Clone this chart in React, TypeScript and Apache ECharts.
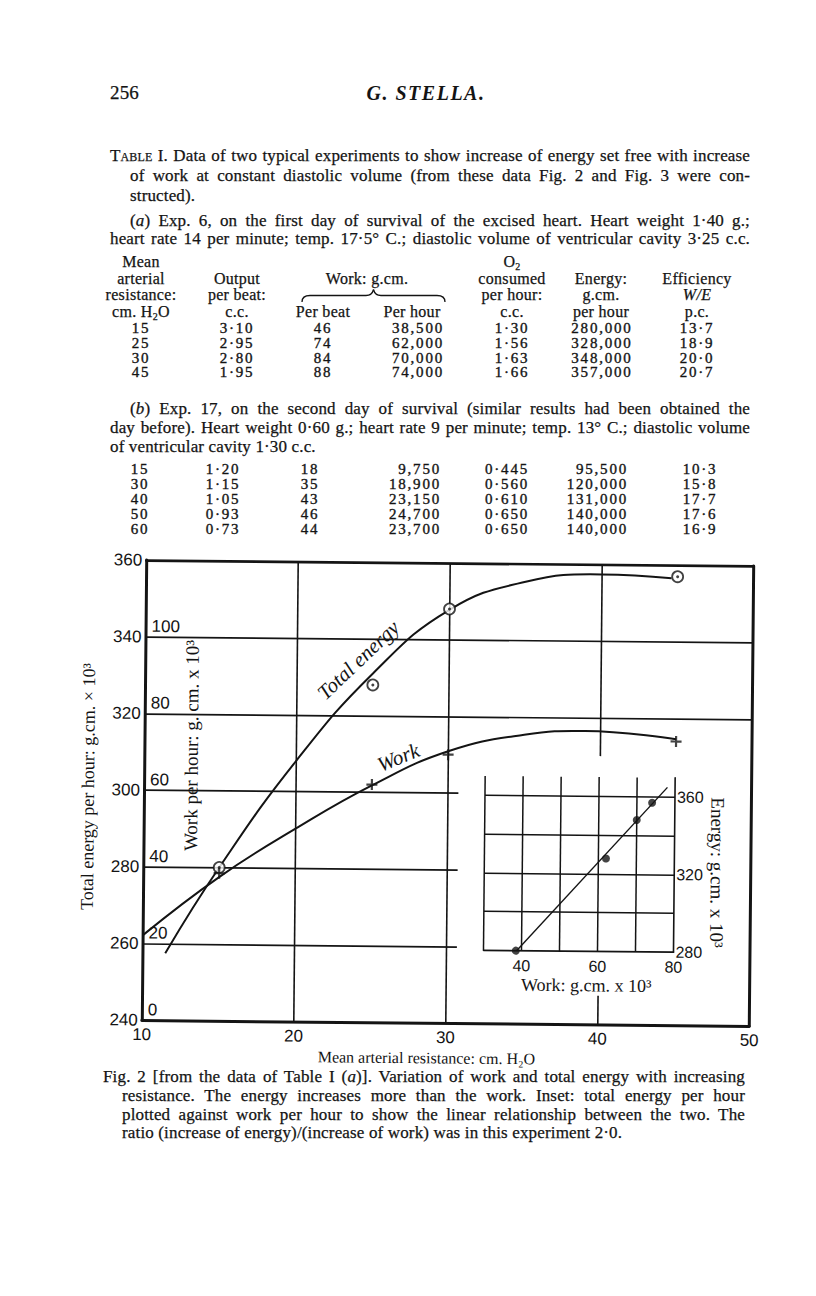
import React, { useEffect, useRef } from "react";
import * as echarts from "echarts";

// ---------- Table I (a): Exp. 6 ----------
const resistanceA = [15, 25, 30, 45];
const outputA = [3.1, 2.95, 2.8, 1.95];
const workPerBeatA = [46, 74, 84, 88];
const workPerHourA = [38500, 62000, 70000, 74000];
const o2A = [1.3, 1.56, 1.63, 1.66];
const energyA = [280000, 328000, 348000, 357000];
const efficiencyA = [13.7, 18.9, 20.0, 20.7];

// ---------- Table I (b): Exp. 17 ----------
const resistanceB = [15, 30, 40, 50, 60];
const outputB = [1.2, 1.15, 1.05, 0.93, 0.73];
const workPerBeatB = [18, 35, 43, 46, 44];
const workPerHourB = [9750, 18900, 23150, 24700, 23700];
const o2B = [0.445, 0.56, 0.61, 0.65, 0.65];
const energyB = [95500, 120000, 131000, 140000, 140000];
const efficiencyB = [10.3, 15.8, 17.7, 17.6, 16.9];

// ---------- Fig. 2 curves ----------
// [resistance cm H2O, energy g.cm. x10^3]
const energyCurve = [
  [11.5, 257.5], [15, 280], [20, 308], [25, 331], [30, 347.8],
  [35, 355.3], [40, 357.4], [44.6, 356.6],
];
// [resistance, work per hour g.cm. x10^3]
const workCurve = [
  [10, 22.1], [15, 37.5], [20, 50.3], [25, 61.8], [30, 70.9],
  [35, 75.4], [39, 76.5], [45, 74.6],
];
// inset fitted straight line [work x10^3, energy x10^3]
const insetFit = [[38.7, 280], [78, 365]];

// axis ticks
const mainXTicks = [10, 20, 30, 40, 50];
const energyTicks = [240, 260, 280, 300, 320, 340, 360];
const insetXLabels = [40, 60, 80];
const insetYLabels = [280, 320, 360];

// grid rulings of the main figure
const mainFullVerticals = [20, 30];
const mainVertical40 = [[310, 360], [240, 247.5]];
const mainFullHorizontals = [320, 340];
const mainShortHorizontals = [260, 280, 300];
const mainShortHorizontalEnd = 30.7;
// inset rulings
const insetVerticals = [30, 40, 50, 60, 70];
const insetHorizontals = [300, 320, 340, 360];

const INK = "#141414";
const SERIF = '"Liberation Serif", "Times New Roman", serif';
const SANS = "Liberation Sans";

const dot = (v: number, d: number) => v.toFixed(d).replace(".", "\u00b7");
const thou = (v: number) => v.toLocaleString("en-US");

const rowsA = resistanceA.map((r, i) => [
  String(r), dot(outputA[i], 2), String(workPerBeatA[i]), thou(workPerHourA[i]),
  dot(o2A[i], 2), thou(energyA[i]), dot(efficiencyA[i], 1),
]);
const rowsB = resistanceB.map((r, i) => [
  String(r), dot(outputB[i], 2), String(workPerBeatB[i]), thou(workPerHourB[i]),
  dot(o2B[i], 3), thou(energyB[i]), dot(efficiencyB[i], 1),
]);

const colsA: { c?: number; r?: number }[] = [
  { c: 141 }, { c: 237 }, { c: 323 }, { r: 444 }, { c: 512 }, { c: 602 }, { c: 697 },
];
const colsB: { c?: number; r?: number }[] = [
  { c: 140 }, { c: 223 }, { c: 310 }, { r: 441 }, { c: 507 }, { r: 628 }, { c: 700 },
];
const rowYA = [330, 345, 360, 374];
const rowYB = [471, 486, 501, 516, 531];

const textStroke = { WebkitTextStroke: "0.25px #141414" } as React.CSSProperties;
const subStyle: React.CSSProperties = { fontSize: 10, lineHeight: 0, verticalAlign: "-3px" };

// top of a line box so that the middle of the lower-case letters sits at y
const topFor = (y: number, size: number, lh: number) => y - 0.1075 * size - lh / 2;

function Line(props: {
  x: number; y: number; w?: number; size?: number; lh?: number; justify?: boolean;
  children: React.ReactNode; style?: React.CSSProperties;
}) {
  const size = props.size ?? 17;
  const lh = props.lh ?? size;
  return (
    <div
      style={{
        position: "absolute",
        left: props.x,
        top: topFor(props.y, size, lh),
        width: props.w,
        fontSize: size,
        lineHeight: `${lh}px`,
        letterSpacing: "0.15px",
        textAlign: props.justify ? "justify" : "left",
        textAlignLast: props.justify ? "justify" : "auto",
        whiteSpace: props.justify ? "normal" : "nowrap",
        ...textStroke,
        ...props.style,
      } as React.CSSProperties}
    >
      {props.children}
    </div>
  );
}

function Cell(props: { c?: number; r?: number; y: number; size?: number; lh?: number; children: React.ReactNode; style?: React.CSSProperties }) {
  const size = props.size ?? 15;
  const lh = props.lh ?? 13;
  const right = props.r != null;
  return (
    <div
      style={{
        position: "absolute",
        top: topFor(props.y, size, lh),
        left: right ? props.r : props.c,
        transform: right ? "translateX(-100%)" : "translateX(-50%)",
        fontSize: size,
        lineHeight: `${lh}px`,
        whiteSpace: "nowrap",
        letterSpacing: "1.8px",
        WebkitTextStroke: "0.35px #141414",
        ...props.style,
      } as React.CSSProperties}
    >
      {props.children}
    </div>
  );
}

function buildOption(): any {
  const gridLineStyle = { color: INK, width: 1.6, type: "solid" as const };
  const mainRulings = [
    ...mainFullVerticals.map((x) => [{ coord: [x, 240] }, { coord: [x, 360] }]),
    ...mainVertical40.map(([a, b]) => [{ coord: [40, a] }, { coord: [40, b] }]),
    ...mainFullHorizontals.map((y) => [{ coord: [10, y] }, { coord: [50, y] }]),
    ...mainShortHorizontals.map((y) => [{ coord: [10, y] }, { coord: [mainShortHorizontalEnd, y] }]),
  ];
  const insetRulings = [
    ...insetVerticals.map((x) => [{ coord: [x, 280] }, { coord: [x, 370] }]),
    ...insetHorizontals.map((y) => [{ coord: [30, y] }, { coord: [80, y] }]),
  ];
  const energyPts = resistanceA.map((r, i) => [r, energyA[i] / 1000]);
  const workPts = resistanceA.map((r, i) => [r, workPerHourA[i] / 1000]);
  const insetPts = workPerHourA.map((w, i) => [w / 1000, energyA[i] / 1000]);

  return {
    animation: false,
    backgroundColor: "transparent",
    grid: [
      { left: 144, right: 64.5, top: 23, bottom: 47 },
      { left: 485, right: 141, top: 235.6, bottom: 120 },
    ],
    xAxis: [
      {
        gridIndex: 0, type: "value", min: 10, max: 50, interval: 10,
        axisLine: { show: true, lineStyle: { color: INK, width: 3 } },
        axisTick: { show: false },
        axisLabel: { color: INK, fontSize: 17, fontFamily: SANS, margin: 6, customValues: mainXTicks },
        splitLine: { show: false },
      },
      {
        gridIndex: 0, type: "value", position: "top", min: 10, max: 50,
        axisLine: { show: true, lineStyle: { color: INK, width: 2.6 } },
        axisTick: { show: false }, axisLabel: { show: false }, splitLine: { show: false },
      },
      {
        gridIndex: 1, type: "value", min: 30, max: 80, interval: 10,
        axisLine: { show: true, lineStyle: { color: INK, width: 1.6 } },
        axisTick: { show: false },
        axisLabel: { color: INK, fontSize: 16, fontFamily: SANS, margin: 7, customValues: insetXLabels },
        splitLine: { show: false },
      },
    ],
    yAxis: [
      {
        gridIndex: 0, type: "value", min: 240, max: 360, interval: 20, position: "left",
        axisLine: { show: true, lineStyle: { color: INK, width: 3 } },
        axisTick: { show: false },
        axisLabel: { color: INK, fontSize: 17, fontFamily: SANS, margin: 4, customValues: energyTicks },
        splitLine: { show: false },
      },
      {
        gridIndex: 0, type: "value", min: 240, max: 360, position: "right",
        axisLine: { show: true, lineStyle: { color: INK, width: 3 } },
        axisTick: { show: false }, axisLabel: { show: false }, splitLine: { show: false },
      },
      {
        gridIndex: 0, type: "value", min: 0, max: 120, interval: 20, position: "left",
        axisLine: { show: false }, axisTick: { show: false }, splitLine: { show: false },
        axisLabel: {
          inside: true, color: INK, fontSize: 17, fontFamily: SANS, margin: 6,
          verticalAlign: "bottom", padding: [0, 0, 2, 0],
          formatter: (v: number) => (v === 120 ? "" : String(v)),
        },
      },
      {
        gridIndex: 1, type: "value", min: 280, max: 370, position: "right",
        axisLine: { show: true, lineStyle: { color: INK, width: 1.6 } },
        axisTick: { show: false }, splitLine: { show: false },
        axisLabel: {
          color: INK, fontSize: 16, fontFamily: SANS, margin: 2, customValues: insetYLabels,
          padding: [0, 0, 6, 0],
        },
      },
    ],
    series: [
      {
        name: "Total energy", type: "line", xAxisIndex: 0, yAxisIndex: 0,
        data: energyCurve, smooth: 0.45, symbol: "none", silent: true,
        lineStyle: { color: INK, width: 2 },
        markLine: {
          silent: true, symbol: ["none", "none"], label: { show: false },
          lineStyle: gridLineStyle, emphasis: { disabled: true }, data: mainRulings,
        },
      },
      {
        name: "Work", type: "line", xAxisIndex: 0, yAxisIndex: 2,
        data: workCurve, smooth: 0.45, symbol: "none", silent: true,
        lineStyle: { color: INK, width: 2 },
      },
      {
        name: "Energy points", type: "scatter", xAxisIndex: 0, yAxisIndex: 0,
        data: energyPts, symbol: "circle", symbolSize: 11, z: 5,
        itemStyle: { color: "#ffffff", borderColor: INK, borderWidth: 1.8 },
      },
      {
        name: "Energy point centres", type: "scatter", xAxisIndex: 0, yAxisIndex: 0,
        data: energyPts, symbol: "circle", symbolSize: 3, z: 6,
        itemStyle: { color: INK },
      },
      {
        name: "Work points", type: "scatter", xAxisIndex: 0, yAxisIndex: 2,
        data: workPts, symbol: "path://M4,0H6V4H10V6H6V10H4V6H0V4H4Z", symbolSize: 11, z: 5,
        itemStyle: { color: INK },
      },
      {
        name: "Inset fit", type: "line", xAxisIndex: 2, yAxisIndex: 3,
        data: insetFit, symbol: "none", silent: true,
        lineStyle: { color: INK, width: 1.4 },
        markLine: {
          silent: true, symbol: ["none", "none"], label: { show: false },
          lineStyle: { color: INK, width: 1.5, type: "solid" }, emphasis: { disabled: true },
          data: insetRulings,
        },
      },
      {
        name: "Inset points", type: "scatter", xAxisIndex: 2, yAxisIndex: 3,
        data: insetPts, symbol: "circle", symbolSize: 8, z: 5,
        itemStyle: { color: INK },
      },
    ],
    graphic: [
      {
        type: "text", x: 88, y: 250, rotation: Math.PI / 2,
        style: { text: "Total energy per hour: g.cm. \u00d7 10\u00b3", fontFamily: SERIF, fontSize: 18, fill: INK, align: "center", verticalAlign: "middle" },
      },
      {
        type: "text", x: 191, y: 208, rotation: Math.PI / 2,
        style: { text: "Work per hour: g. cm. x 10\u00b3", fontFamily: SERIF, fontSize: 19, fill: INK, align: "center", verticalAlign: "middle" },
      },
      {
        type: "text", x: 357, y: 121, rotation: (44 * Math.PI) / 180,
        style: { text: "Total energy", fontFamily: SERIF, fontStyle: "italic", fontSize: 21, fill: INK, align: "center", verticalAlign: "middle" },
      },
      {
        type: "text", x: 398, y: 218, rotation: (23 * Math.PI) / 180,
        style: { text: "Work", fontFamily: SERIF, fontStyle: "italic", fontSize: 21, fill: INK, align: "center", verticalAlign: "middle" },
      },
      {
        type: "text", x: 588, y: 444,
        style: { text: "Work: g.cm. x 10\u00b3", fontFamily: SERIF, fontSize: 18, fill: INK, align: "center", verticalAlign: "middle" },
      },
      {
        type: "text", x: 718, y: 330, rotation: -Math.PI / 2,
        style: { text: "Energy: g.cm. x 10\u00b3", fontFamily: SERIF, fontSize: 19, fill: INK, align: "center", verticalAlign: "middle" },
      },
      {
        type: "text", x: 429, y: 518,
        style: { text: "Mean arterial resistance: cm. H\u2082O", fontFamily: SERIF, fontSize: 16, fill: INK, align: "center", verticalAlign: "middle" },
      },
    ],
  };
}

export default function App() {
  const ref = useRef<HTMLDivElement>(null);
  useEffect(() => {
    if (!ref.current) return;
    const chart = echarts.init(ref.current, null, { renderer: "svg" });
    chart.setOption(buildOption());
    return () => chart.dispose();
  }, []);

  const headA: [number, number, React.ReactNode][] = [
    [141, 263, "Mean"], [141, 280, "arterial"], [141, 296, "resistance:"], [141, 313, <>cm. H<sub style={subStyle}>2</sub>O</>],
    [237, 280, "Output"], [237, 296, "per beat:"], [237, 313, "c.c."],
    [367, 280, "Work: g.cm."], [323, 313, "Per beat"], [412, 313, "Per hour"],
    [512, 263, <>O<sub style={subStyle}>2</sub></>], [512, 280, "consumed"], [512, 296, "per hour:"], [512, 313, "c.c."],
    [601, 280, "Energy:"], [601, 296, "g.cm."], [601, 313, "per hour"],
    [697, 280, "Efficiency"], [697, 296, <i>W/E</i>], [697, 313, "p.c."],
  ];

  const caption = [
    { x: 103, y: 1078, w: 642, justify: true, t: <>Fig. 2 [from the data of Table I (<i>a</i>)]. Variation of work and total energy with increasing</> },
    { x: 122, y: 1097, w: 623, justify: true, t: <>resistance. The energy increases more than the work. Inset: total energy per hour</> },
    { x: 122, y: 1116, w: 623, justify: true, t: <>plotted against work per hour to show the linear relationship between the two. The</> },
    { x: 122, y: 1134, w: undefined, justify: false, t: <>ratio (increase of energy)/(increase of work) was in this experiment 2·0.</> },
  ];

  return (
    <div
      style={{
        position: "absolute", left: 0, top: 0, width: 816, height: 1296,
        background: "#ffffff", color: INK, fontFamily: SERIF, overflow: "hidden",
      }}
    >
      {/* running head */}
      <Line x={110} y={95} size={19}>256</Line>
      <div
        style={{
          position: "absolute", left: 426, top: topFor(95, 20, 20), transform: "translateX(-50%)",
          fontSize: 20, lineHeight: "20px", fontStyle: "italic", fontWeight: "bold",
          letterSpacing: "1.5px", whiteSpace: "nowrap",
        }}
      >
        G. STELLA.
      </div>

      {/* Table I heading */}
      <Line x={110} y={157} w={640} justify>
        <span style={{ fontVariant: "small-caps" }}>Table</span> I. Data of two typical experiments to show increase of energy set free with increase
      </Line>
      <Line x={130} y={177} w={620} justify>
        of work at constant diastolic volume (from these data Fig. 2 and Fig. 3 were con-
      </Line>
      <Line x={130} y={197}>structed).</Line>
      <Line x={130} y={222} w={620} justify>
        (<i>a</i>) Exp. 6, on the first day of survival of the excised heart. Heart weight 1·40 g.;
      </Line>
      <Line x={110} y={240} w={640} justify>
        heart rate 14 per minute; temp. 17·5° C.; diastolic volume of ventricular cavity 3·25 c.c.
      </Line>

      {/* table header */}
      {headA.map(([c, y, t], i) => (
        <Cell key={"h" + i} c={c} y={y} size={16} style={{ letterSpacing: "0.3px", WebkitTextStroke: "0.25px #141414" } as React.CSSProperties}>{t}</Cell>
      ))}
      <svg style={{ position: "absolute", left: 0, top: 0 }} width={816} height={400}>
        <path
          d="M302,302 Q302,295.5 310,295.5 L366,295.5 Q372,295.5 373.5,289.5 Q375,295.5 381,295.5 L437,295.5 Q445,295.5 445,302"
          fill="none" stroke={INK} strokeWidth={1.3}
        />
      </svg>

      {/* table (a) rows */}
      {rowsA.map((row, ri) =>
        row.map((v, ci) => (
          <Cell key={`a${ri}-${ci}`} c={colsA[ci].c} r={colsA[ci].r} y={rowYA[ri]}>{v}</Cell>
        ))
      )}

      {/* (b) paragraph */}
      <Line x={130} y={410} w={620} justify>
        (<i>b</i>) Exp. 17, on the second day of survival (similar results had been obtained the
      </Line>
      <Line x={110} y={429} w={640} justify>
        day before). Heart weight 0·60 g.; heart rate 9 per minute; temp. 13° C.; diastolic volume
      </Line>
      <Line x={110} y={448}>of ventricular cavity 1·30 c.c.</Line>

      {/* table (b) rows */}
      {rowsB.map((row, ri) =>
        row.map((v, ci) => (
          <Cell key={`b${ri}-${ci}`} c={colsB[ci].c} r={colsB[ci].r} y={rowYB[ri]}>{v}</Cell>
        ))
      )}

      {/* Fig. 2 */}
      <div
        ref={ref}
        style={{
          position: "absolute", left: 0, top: 540, width: 816, height: 530,
          transform: "rotate(0.55deg)", transformOrigin: "448px 253px",
        }}
      />

      {/* caption */}
      {caption.map((l, i) => (
        <Line key={"cap" + i} x={l.x} y={l.y} w={l.w} justify={l.justify}>
          {l.t}
        </Line>
      ))}
    </div>
  );
}
